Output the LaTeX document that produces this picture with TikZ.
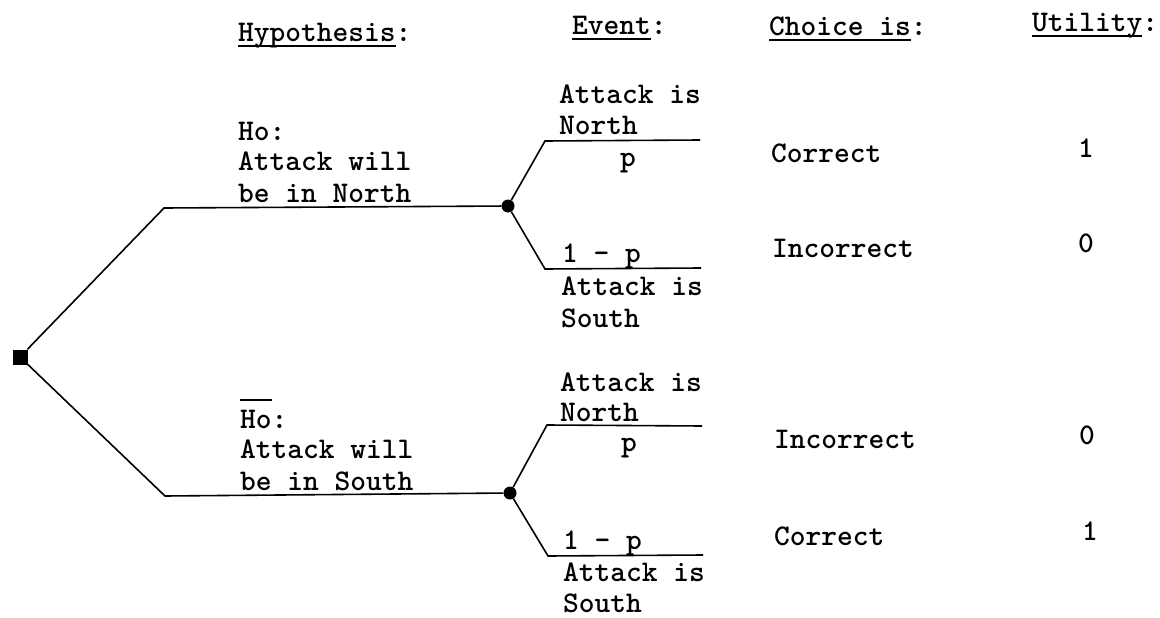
\documentclass[tikz,border=0pt]{standalone}
\usepackage{fontspec}
\newcommand\txt{\fontsize{30}{31}\ttfamily\bfseries\selectfont}
\newcommand\hul[1]{\setbox0\hbox{#1}\rlap{\rule[-5pt]{\wd0}{1.5pt}}\box0}
\newcommand\hol[1]{\setbox0\hbox{#1}\rlap{\rule[27pt]{\wd0}{1.6pt}}\box0}
\tikzset{
  lbl/.style={anchor=base west, inner sep=0pt, font=\txt},
  num/.style={anchor=base, inner sep=0pt, font=\txt},
  branch/.style={line width=1.6pt, line join=miter},
  chance/.style={circle, fill=black, inner sep=0pt, minimum size=13pt},
  decision/.style={rectangle, fill=black, inner sep=0pt, minimum size=15pt},
}
\begin{document}
\begin{tikzpicture}[x=1pt,y=-1pt]
\useasboundingbox (0,0) rectangle (1160,618);
% headers
\node[lbl] (hH) at (238,42) {\hul{Hypothesis}:};
\node[lbl] (hE) at (572,35) {\hul{Event}:};
\node[lbl] (hC) at (769,36) {\hul{Choice is}:};
\node[lbl] (hU) at (1032,32) {\hul{Utility}:};
% tree nodes
\node[decision] (root) at (20,357) {};
\node[chance] (a1) at (508,206) {};
\node[chance] (a2) at (510,493) {};
\coordinate (h1) at (164,208);
\coordinate (h2) at (165,496);
\coordinate (u1) at (545,141);
\coordinate (u1e) at (700,140);
\coordinate (d1) at (545,269);
\coordinate (d1e) at (701,268);
\coordinate (u2) at (547,425);
\coordinate (u2e) at (702,426);
\coordinate (d2) at (548,556);
\coordinate (d2e) at (703,555);
\draw[branch] (root) -- (h1) -- (a1);
\draw[branch] (root) -- (h2) -- (a2);
\draw[branch] (a1) -- (u1) -- (u1e);
\draw[branch] (a1) -- (d1) -- (d1e);
\draw[branch] (a2) -- (u2) -- (u2e);
\draw[branch] (a2) -- (d2) -- (d2e);
% hypothesis labels
\node[lbl] (t1a) at (238,140) {Ho:};
\node[lbl] (t1b) at (238,170) {Attack will};
\node[lbl] (t1c) at (238,202) {be in North};
\node[lbl] (t2a) at (240,428) {\hol{Ho}:};
\node[lbl] (t2b) at (240,458) {Attack will};
\node[lbl] (t2c) at (240,490) {be in South};
% event labels upper
\node[lbl] (e1a) at (559,103) {Attack is};
\node[lbl] (e1b) at (559,135) {North};
\node[lbl] (e1p) at (620,166) {p};
\node[lbl] (e2p) at (562,262) {1 - p};
\node[lbl] (e2a) at (561,295) {Attack is};
\node[lbl] (e2b) at (561,327) {South};
% event labels lower
\node[lbl] (e3a) at (560,391) {Attack is};
\node[lbl] (e3b) at (560,421) {North};
\node[lbl] (e3p) at (621,451) {p};
\node[lbl] (e4p) at (563,549) {1 - p};
\node[lbl] (e4a) at (563,581) {Attack is};
\node[lbl] (e4b) at (563,612) {South};
% choices
\node[lbl] (c1) at (771,162) {Correct};
\node[lbl] (c2) at (772,257) {Incorrect};
\node[lbl] (c3) at (774,448) {Incorrect};
\node[lbl] (c4) at (774,545) {Correct};
% utilities
\node[num] (v1) at (1086,157) {1};
\node[num] (v2) at (1086,252) {0};
\node[num] (v3) at (1087,444) {0};
\node[num] (v4) at (1090,540) {1};
\end{tikzpicture}
\end{document}
